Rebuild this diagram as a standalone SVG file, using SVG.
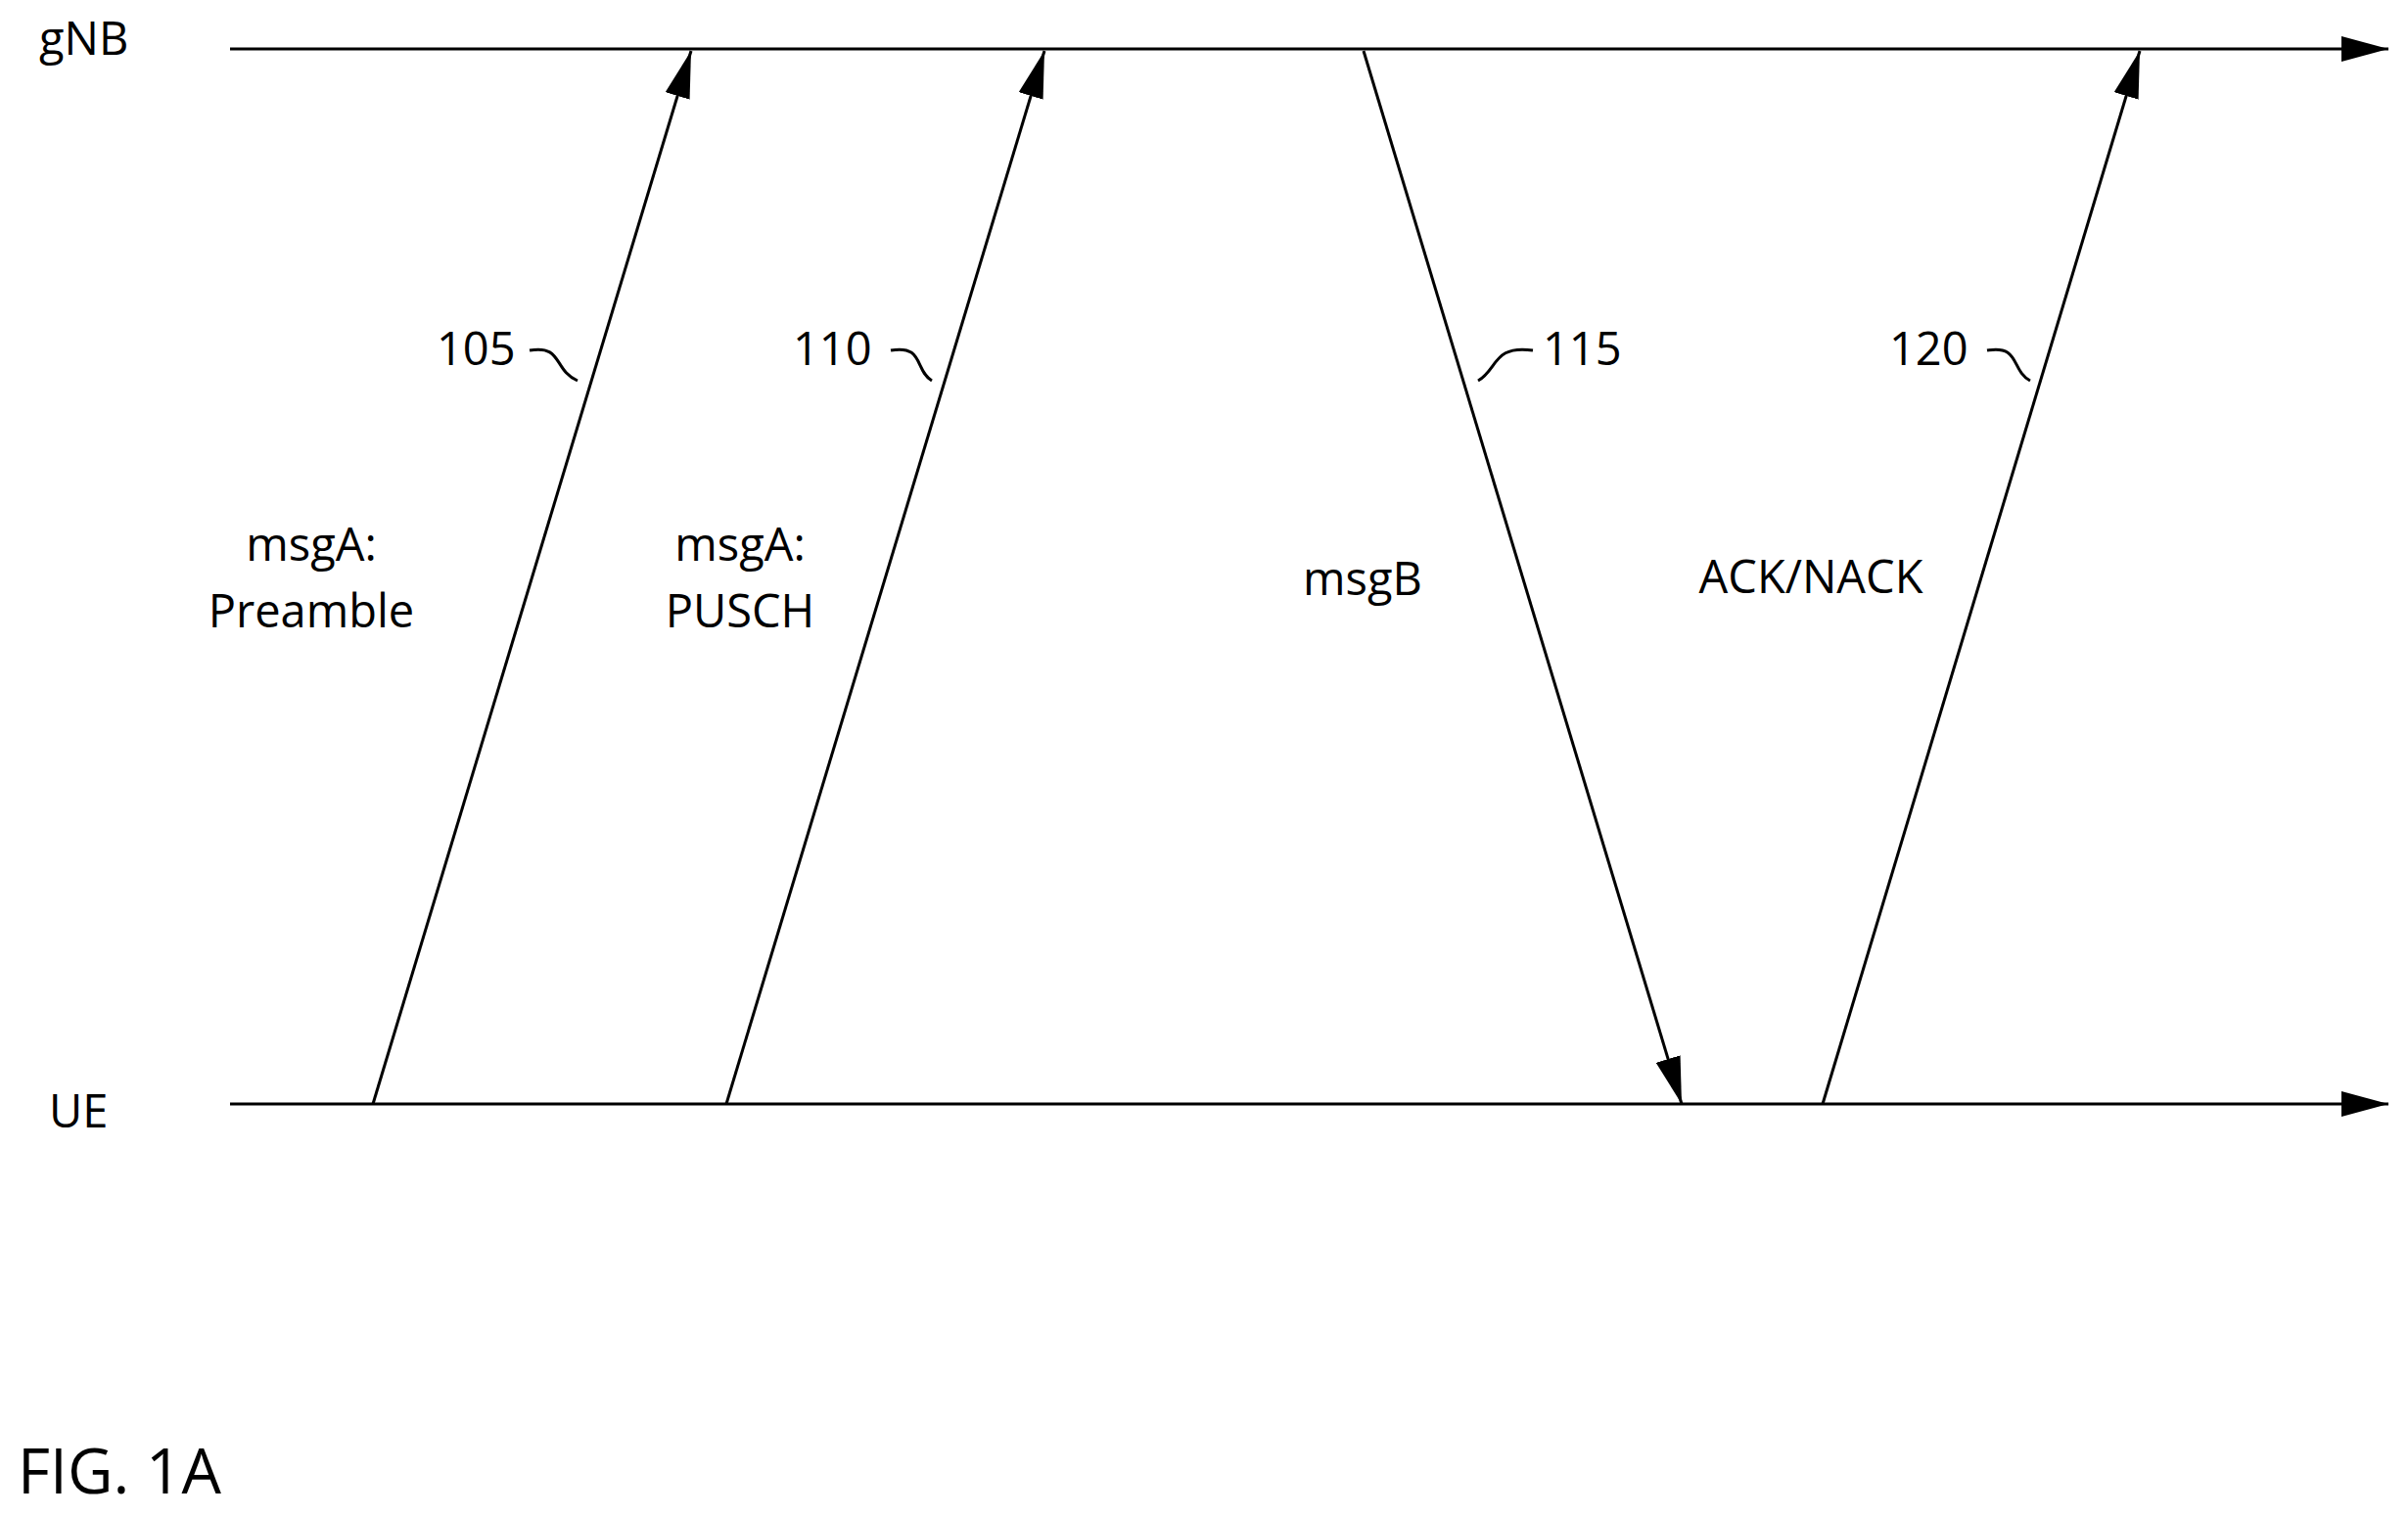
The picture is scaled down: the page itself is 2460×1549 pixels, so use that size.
<svg xmlns="http://www.w3.org/2000/svg" width="2460" height="1549" viewBox="0 0 2460 1549">
<style>
text{font-family:"Open Sans","Liberation Sans",sans-serif;font-size:47px;fill:#000}
.l{stroke:#000;stroke-width:3;fill:none}
</style>
<defs><marker id="a" viewBox="0 0 10 10" refX="10" refY="5" markerWidth="16" markerHeight="12" markerUnits="userSpaceOnUse" orient="auto"><path d="M0,0L10,5L0,10z" fill="#000"/></marker>
<marker id="b" viewBox="0 0 10 10" refX="10" refY="5" markerWidth="48" markerHeight="26" markerUnits="userSpaceOnUse" orient="auto" preserveAspectRatio="none"><path d="M0,0L10,5L0,10z" fill="#000"/></marker></defs>
<rect width="2460" height="1549" fill="#fff"/>
<g id="gNB"><text x="40" y="56">gNB</text></g>
<g id="UE"><text x="50" y="1152">UE</text></g>
<g id="connectors">
<line class="l" x1="235" y1="50" x2="2440" y2="50" marker-end="url(#b)"/>
<line class="l" x1="235" y1="1128" x2="2440" y2="1128" marker-end="url(#b)"/>
<line class="l" x1="381" y1="1128" x2="706" y2="52" marker-end="url(#b)"/>
<line class="l" x1="742" y1="1128" x2="1067" y2="52" marker-end="url(#b)"/>
<line class="l" x1="1393" y1="52" x2="1718" y2="1128" marker-end="url(#b)"/>
<line class="l" x1="1862" y1="1128" x2="2186" y2="52" marker-end="url(#b)"/>
<path class="l" d="M541,358 C575,352 565,378 590,389"/>
<path class="l" d="M910,358 C944,352 934,378 952,389"/>
<path class="l" d="M1510,389 C1530,378 1525,352 1566,358"/>
<path class="l" d="M2030,358 C2064,352 2054,378 2074,389"/>
</g>
<g id="labels">
<text x="446" y="373">105</text>
<text x="810" y="373">110</text>
<text x="1576" y="373">115</text>
<text x="1930" y="373">120</text>
<text x="318" y="573" text-anchor="middle">msgA:</text>
<text x="318" y="641" text-anchor="middle">Preamble</text>
<text x="756" y="573" text-anchor="middle">msgA:</text>
<text x="756" y="641" text-anchor="middle">PUSCH</text>
<text x="1392" y="608" text-anchor="middle">msgB</text>
<text x="1850" y="606" text-anchor="middle">ACK/NACK</text>
<text x="18" y="1526" style="font-size:64px">FIG. 1A</text>
</g>
</svg>
